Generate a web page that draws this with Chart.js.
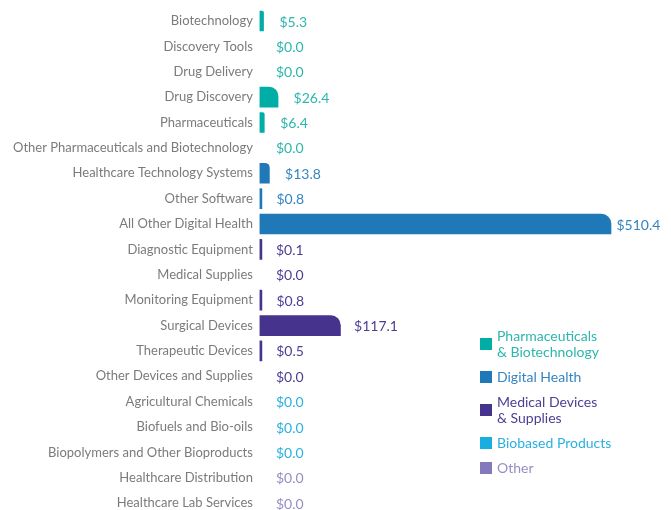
<!DOCTYPE html>
<html>
<head>
<meta charset="utf-8">
<script src="https://cdn.jsdelivr.net/npm/chart.js@4/dist/chart.umd.min.js"></script>
<style>
  html, body { margin: 0; padding: 0; background: #fff; overflow: hidden; }
  #wrap { position: relative; width: 671px; height: 510px; overflow: hidden; }
  #c { position: absolute; left: 0; top: 0; }
  #legend { position: absolute; left: 480px; top: 328px; font-family: Lato, sans-serif; font-size: 14px; }
  .li { display: flex; align-items: center; margin-bottom: 9px; line-height: 16px; }
  .sw { width: 12px; height: 12px; margin-right: 5px; flex: none; }
</style>
</head>
<body>
<div id="wrap">
  <canvas id="c" width="671" height="518"></canvas>
  <div id="legend"></div>
</div>
<script>
const categories = [
  "Biotechnology", "Discovery Tools", "Drug Delivery", "Drug Discovery", "Pharmaceuticals",
  "Other Pharmaceuticals and Biotechnology", "Healthcare Technology Systems", "Other Software",
  "All Other Digital Health", "Diagnostic Equipment", "Medical Supplies", "Monitoring Equipment",
  "Surgical Devices", "Therapeutic Devices", "Other Devices and Supplies", "Agricultural Chemicals",
  "Biofuels and Bio-oils", "Biopolymers and Other Bioproducts", "Healthcare Distribution",
  "Healthcare Lab Services"
];
const values = [5.3, 0.0, 0.0, 26.4, 6.4, 0.0, 13.8, 0.8, 510.4, 0.1, 0.0, 0.8, 117.1, 0.5, 0.0, 0.0, 0.0, 0.0, 0.0, 0.0];
const groupOf = [0, 0, 0, 0, 0, 0, 1, 1, 1, 2, 2, 2, 2, 2, 2, 3, 3, 3, 4, 4];
const groups = ["Pharmaceuticals\n& Biotechnology", "Digital Health", "Medical Devices\n& Supplies", "Biobased Products", "Other"];
const barColors = ["#00aea6", "#1f78b8", "#45338d", "#1aade0", "#8479bb"];
const textColors = ["#2db6ad", "#3585c0", "#4d3e92", "#2ab1df", "#968ec4"];

const legendEl = document.getElementById('legend');
groups.forEach((g, i) => {
  const d = document.createElement('div');
  d.className = 'li';
  d.innerHTML = '<span class="sw" style="background:' + barColors[i] + '"></span><span style="color:' + textColors[i] + '">' + g.replace('\n', '<br>') + '</span>';
  legendEl.appendChild(d);
});

const valueLabels = {
  id: 'valueLabels',
  afterDatasetsDraw(chart) {
    const ctx = chart.ctx;
    const meta = chart.getDatasetMeta(0);
    const xs = chart.scales.x;
    const base = xs.getPixelForValue(0);
    ctx.save();
    ctx.font = '14px Lato, sans-serif';
    ctx.textBaseline = 'middle';
    ctx.textAlign = 'left';
    meta.data.forEach((el, i) => {
      const end = xs.getPixelForValue(values[i]);
      const x = base + 16 + (end - base) * 0.97;
      ctx.fillStyle = textColors[groupOf[i]];
      ctx.fillText('$' + values[i].toFixed(1), x, el.y + 1);
    });
    ctx.restore();
  }
};

new Chart(document.getElementById('c'), {
  type: 'bar',
  data: {
    labels: categories,
    datasets: [{
      data: values.map(v => v === 0 ? null : v),
      backgroundColor: groupOf.map(g => barColors[g]),
      borderWidth: 0,
      barThickness: 20,
      minBarLength: 2,
      borderRadius: { topLeft: 0, bottomLeft: 0, topRight: 10, bottomRight: 0 },
      borderSkipped: 'left',
      clip: false
    }]
  },
  options: {
    indexAxis: 'y',
    responsive: false,
    animation: false,
    layout: { padding: { top: 21, right: 60, bottom: 0, left: 6 } },
    plugins: { legend: { display: false }, tooltip: { enabled: false } },
    scales: {
      x: { display: false, min: 0, max: 510.4 },
      y: {
        offset: false,
        grid: { display: false, drawTicks: false },
        border: { display: false },
        ticks: { color: '#7a7b7d', font: { family: 'Lato', size: 13 }, padding: 7, autoSkip: false }
      }
    }
  },
  plugins: [valueLabels]
});
</script>
</body>
</html>
